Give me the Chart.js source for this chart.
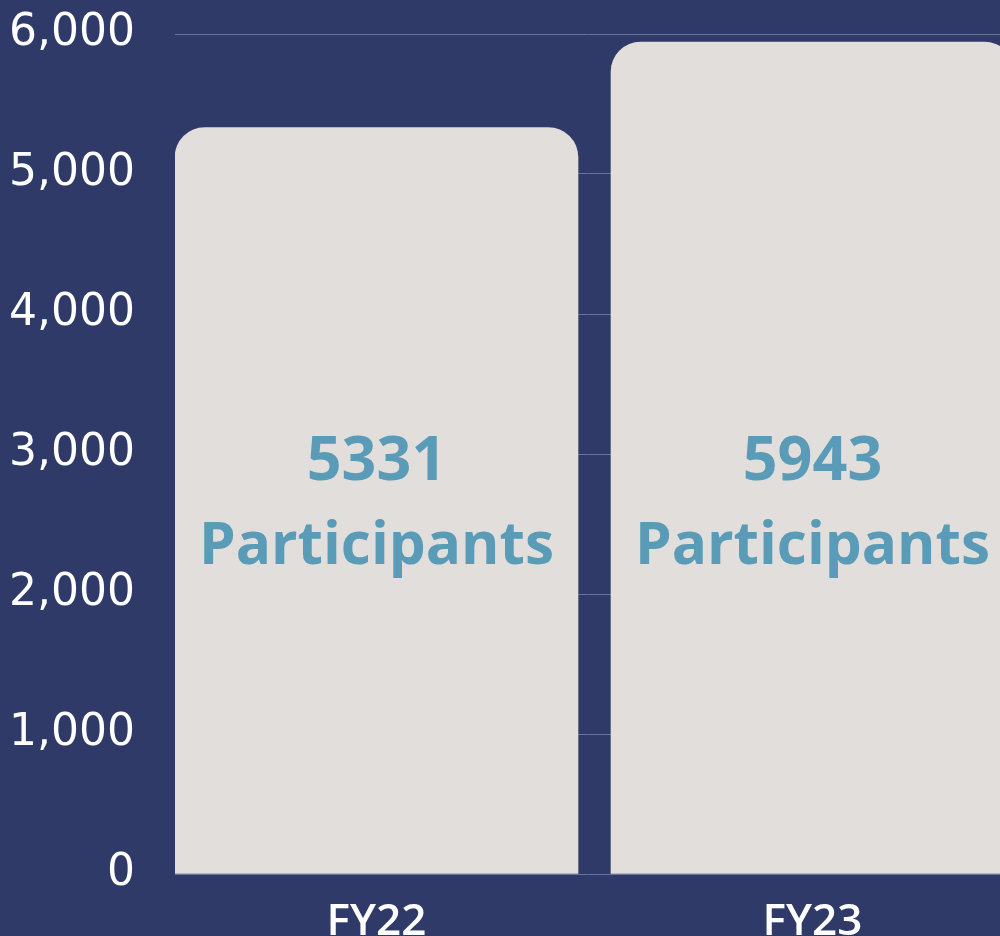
<!DOCTYPE html>
<html>
<head>
<meta charset="utf-8">
<script src="https://cdn.jsdelivr.net/npm/chart.js@4.4.1/dist/chart.umd.min.js"></script>
<style>
  html, body { margin: 0; padding: 0; background: #2f3a69; overflow: hidden; }
  #wrap { position: relative; width: 1000px; height: 936px; }
</style>
</head>
<body>
<div id="wrap"><canvas id="participantsChart"></canvas></div>
<script>
// --- Data ---
const categories = ['FY22', 'FY23'];
const participants = [5331, 5943];
const yTicks = [0, 1000, 2000, 3000, 4000, 5000, 6000];

const barColor = '#e2dedb';
const labelColor = '#5a9cb8';

// draws "5331 / Participants" inside each bar
const barTextPlugin = {
    id: 'barText',
    afterDatasetsDraw(chart) {
        const { ctx, chartArea } = chart;
        const meta = chart.getDatasetMeta(0);
        const mid = chartArea.top + (chartArea.bottom - chartArea.top) * 0.553;
        ctx.save();
        ctx.fillStyle = labelColor;
        ctx.textAlign = 'center';
        ctx.textBaseline = 'alphabetic';
        meta.data.forEach((bar, i) => {
            ctx.font = 'bold 61px "Open Sans"';
            ctx.fillText(String(participants[i]), bar.x, mid - 18.5);
            ctx.font = 'bold 58.5px "Open Sans"';
            ctx.fillText('Participants', bar.x, mid + 65.5);
        });
        ctx.restore();
    }
};

const ctx = document.getElementById('participantsChart').getContext('2d');
new Chart(ctx, {
    type: 'bar',
    data: {
        datasets: [{
            data: participants.map((v, i) => ({ x: i, y: v })),
            backgroundColor: barColor,
            borderWidth: 0,
            borderRadius: { topLeft: 30, topRight: 30 },
            borderSkipped: 'bottom',
            barThickness: 403
        }]
    },
    options: {
        responsive: true,
        maintainAspectRatio: false,
        animation: false,
        layout: { padding: { top: 34, right: 0, bottom: 0, left: 0 } },
        plugins: {
            legend: { display: false },
            tooltip: { enabled: false }
        },
        scales: {
            x: {
                type: 'linear',
                offset: false,
                min: -0.46216,
                max: 1.43005,
                grid: { display: false, offset: false },
                border: { display: false },
                ticks: {
                    color: '#ffffff',
                    padding: 14,
                    font: { family: 'Open Sans', size: 44, weight: '600' },
                    callback: value => categories[value] || ''
                },
                afterBuildTicks: scale => {
                    scale.ticks = categories.map((c, i) => ({ value: i }));
                },
                afterFit: scale => {
                    scale.height = 62;
                    scale.paddingLeft = 0;
                    scale.paddingRight = 0;
                }
            },
            y: {
                min: 0,
                max: 6000,
                grid: { color: '#6a7399', lineWidth: 1, drawTicks: false },
                border: { display: false },
                ticks: {
                    color: '#ffffff',
                    padding: 40,
                    font: { family: 'DejaVu Sans', size: 44, weight: 'normal' },
                    callback: value => value.toLocaleString('en-US')
                },
                afterBuildTicks: scale => {
                    scale.ticks = yTicks.map(v => ({ value: v }));
                },
                afterFit: scale => {
                    scale.width = 175;
                    scale.paddingTop = 0;
                    scale.paddingBottom = 0;
                }
            }
        }
    },
    plugins: [barTextPlugin]
});
</script>
</body>
</html>
